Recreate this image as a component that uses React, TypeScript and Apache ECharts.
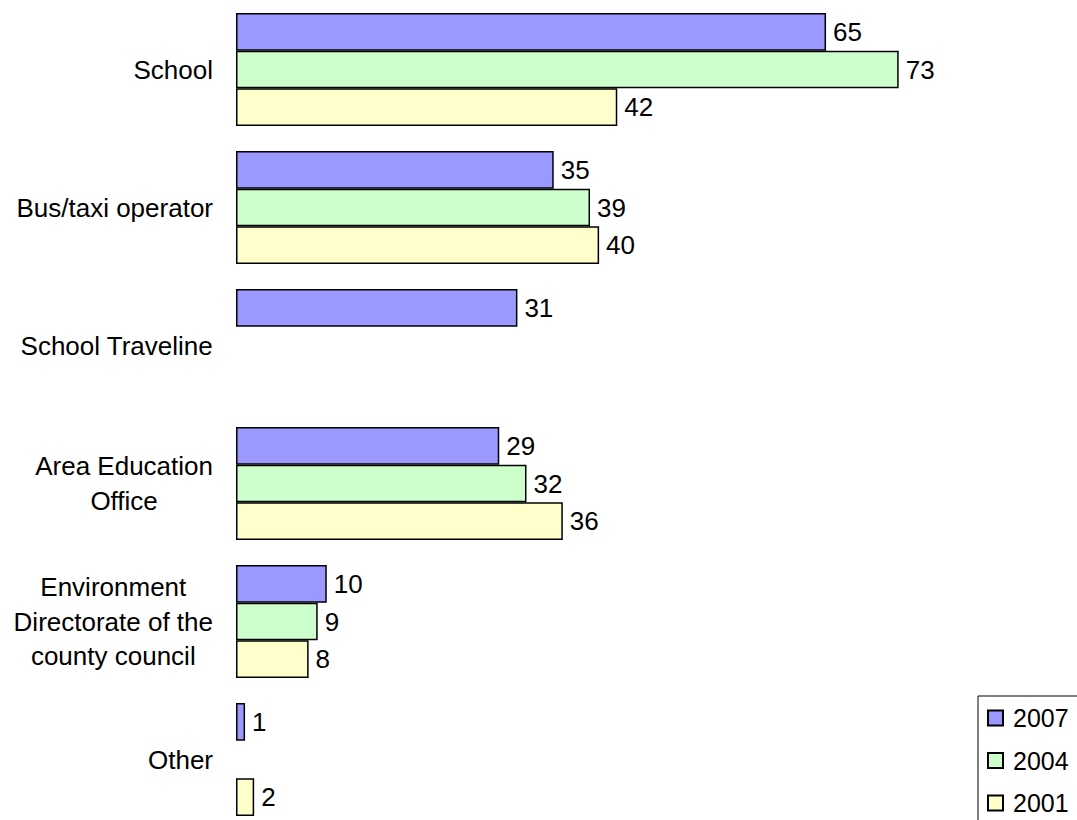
import React, { useEffect, useRef } from "react";
import * as echarts from "echarts";

const categories = [
  "School",
  "Bus/taxi operator",
  "School Traveline",
  "Area Education\nOffice",
  "Environment\nDirectorate of the\ncounty council",
  "Other",
];
const years = ["2007", "2004", "2001"];
const values2007 = [65, 35, 31, 29, 10, 1];
const values2004 = [73, 39, null, 32, 9, null];
const values2001 = [42, 40, null, 36, 8, 2];
const colors = ["#9999FF", "#CCFFCC", "#FFFFCC"];

const FONT = "'Liberation Sans', Arial, sans-serif";

export default function App() {
  const ref = useRef<HTMLDivElement>(null);
  useEffect(() => {
    if (!ref.current) return;
    const chart = echarts.init(ref.current, null, { renderer: "svg" });
    const seriesData = [values2007, values2004, values2001];
    chart.setOption({
      animation: false,
      backgroundColor: "#ffffff",
      textStyle: { fontFamily: FONT },
      grid: { left: 236, top: 0.5, width: 817, height: 828, containLabel: false },
      xAxis: {
        type: "value",
        min: 0,
        max: 90,
        show: false,
      },
      yAxis: {
        type: "category",
        data: categories,
        inverse: true,
        axisLine: { show: false },
        axisTick: { show: false },
        splitLine: { show: false },
        axisLabel: {
          margin: 23,
          align: "right",
          fontSize: 26,
          color: "#000",
          fontFamily: FONT,
          lineHeight: 34.5,
          formatter: (v: string) =>
            v
              .split("\n")
              .map((l) => `{c|${l}}`)
              .join("\n"),
          rich: {
            c: {
              align: "center",
              fontSize: 26,
              lineHeight: 34.5,
              color: "#000",
              fontFamily: FONT,
            },
          },
        },
      },
      legend: {
        orient: "vertical",
        left: 978,
        top: 696,
        padding: [9.5, 20, 12, 9],
        borderColor: "#000",
        borderWidth: 1,
        itemWidth: 15,
        itemHeight: 15,
        itemGap: 17.5,
        icon: "rect",
        data: years,
        textStyle: {
          fontSize: 25,
          lineHeight: 25,
          color: "#000",
          fontFamily: FONT,
          padding: [0, 0, 0, 5],
        },
      },
      series: years.map((y, i) => ({
        name: y,
        type: "bar",
        data: seriesData[i],
        barGap: "0%",
        barCategoryGap: "18%",
        itemStyle: { color: colors[i], borderColor: "#000", borderWidth: 1.5 },
        label: {
          show: true,
          position: "right",
          distance: 7,
          fontSize: 26,
          color: "#000",
          fontFamily: FONT,
        },
      })),
    });
    return () => chart.dispose();
  }, []);
  return (
    <div
      ref={ref}
      style={{ position: "fixed", left: 0, top: 0, width: 1077, height: 850 }}
    />
  );
}
